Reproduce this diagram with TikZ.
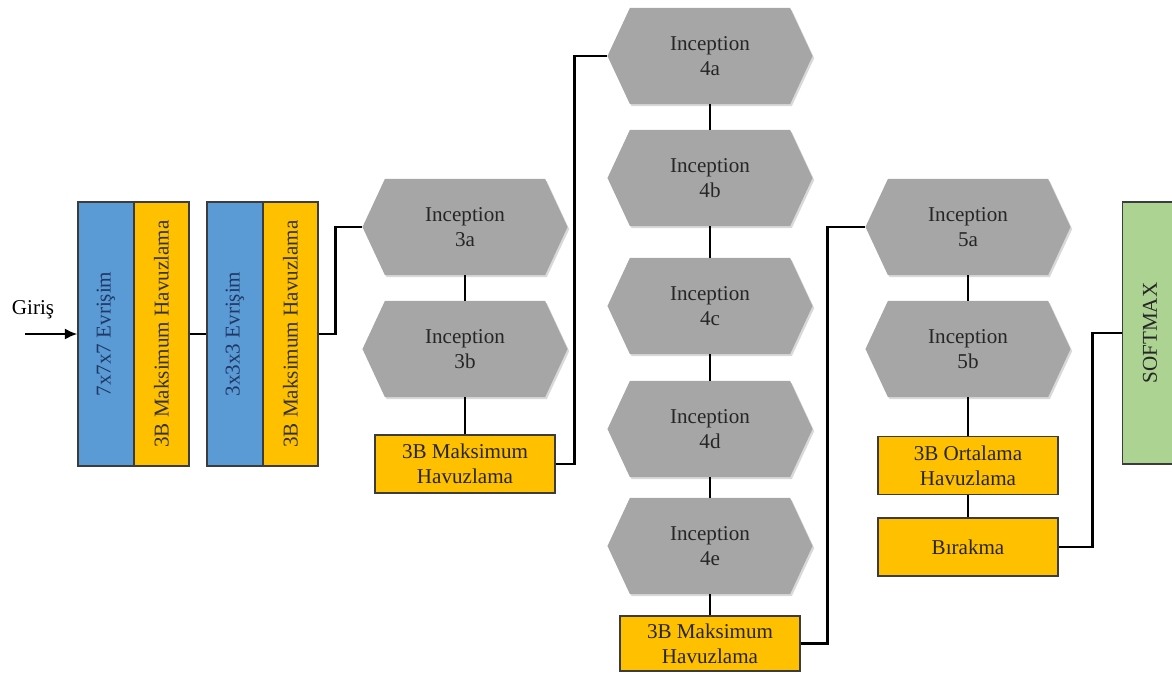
\documentclass[tikz,border=0pt]{standalone}
\usepackage{fontspec}
\setmainfont{Liberation Serif}
\usetikzlibrary{arrows,arrows.meta,positioning,shapes.symbols,shadows}
\definecolor{convblue}{RGB}{91,155,213}
\definecolor{poolyellow}{RGB}{255,192,0}
\definecolor{incgray}{RGB}{166,166,166}
\definecolor{softgreen}{RGB}{172,211,146}
\definecolor{edgegray}{RGB}{60,60,60}
\definecolor{navytext}{RGB}{31,56,100}
\tikzset{%
	convbox/.style = {draw=edgegray, line width=0.8pt, fill=convblue, rotate=90, minimum width=6.6cm, minimum height=1.4cm, inner sep=0pt, text=navytext, drop shadow={opacity=0.25, shadow xshift=1pt, shadow yshift=-1pt}},
	stackpool/.style = {draw=edgegray, line width=0.8pt, fill=poolyellow, rotate=90, minimum width=6.6cm, minimum height=1.375cm, inner sep=0pt, text=black!80},
	poolbox/.style = {draw=edgegray, line width=0.8pt, fill=poolyellow, minimum width=4.5cm, minimum height=1.45cm, inner sep=0pt, align=center, text=black!85},
	hexa/.style = {signal, signal to=west and east, signal pointer angle=130, fill=incgray, minimum width=5.125cm, minimum height=2.4cm, inner sep=0pt, align=center, text=black!85, drop shadow={opacity=0.3, shadow xshift=1.2pt, shadow yshift=-1.5pt}},
	softbox/.style = {draw=edgegray, line width=0.8pt, fill=softgreen, rotate=90, minimum width=6.55cm, minimum height=1.375cm, inner sep=0pt, text=black!85},
	line/.style = {line width=1.7pt},
	arrow/.style = {line width=1.7pt, -{Latex[length=9pt,width=8pt]}},
}
\begin{document}
\begin{tikzpicture}[x=0.025cm, y=-0.025cm, font=\fontsize{15}{18}\selectfont]
	\useasboundingbox (0,0) rectangle (1172,673);
	% input and stem
	\coordinate (in) at (25,334);
	\node (giris) at (33,310) {Giriş};
	\node[convbox] (c1) at (106,334) {7x7x7 Evrişim};
	\node[stackpool] (p1) at (161.5,334) {3B Maksimum Havuzlama};
	\node[convbox] (c2) at (235,334) {3x3x3 Evrişim};
	\node[stackpool] (p2) at (290.5,334) {3B Maksimum Havuzlama};
	
	% inception 3
	\node[hexa] (i3a) at (465,227) {Inception\\3a};
	\node[hexa] (i3b) at (465,349) {Inception\\3b};
	\node[poolbox] (pool3) at (465,464) {3B Maksimum\\Havuzlama};
	
	% inception 4
	\node[hexa] (i4a) at (710,56) {Inception\\4a};
	\node[hexa] (i4b) at (710,178) {Inception\\4b};
	\node[hexa] (i4c) at (710,306) {Inception\\4c};
	\node[hexa] (i4d) at (710,429) {Inception\\4d};
	\node[hexa] (i4e) at (710,546) {Inception\\4e};
	\node[poolbox, minimum height=1.375cm] (pool4) at (710,643.5) {3B Maksimum\\Havuzlama};
	
	% inception 5
	\node[hexa] (i5a) at (968,227) {Inception\\5a};
	\node[hexa] (i5b) at (968,349) {Inception\\5b};
	\node[poolbox] (avg5) at (968,465.5) {3B Ortalama\\Havuzlama};
	\node[poolbox] (drop) at (968,547) {Bırakma};
	\node[softbox] (soft) at (1150,333) {SOFTMAX};
	
	% connectors
	\draw[arrow] (in) -- (c1.north);
	\draw[line] (p1.south) -- (c2.north);
	\draw[line] (p2.south) -- ++(17,0) |- (i3a.west);
	\draw[line] (i3a.south) -- (i3b.north);
	\draw[line] (i3b.south) -- (pool3.north);
	\draw[line] (pool3.east) -- ++(19,0) |- (i4a.west);
	\draw[line] (i4a.south) -- (i4b.north);
	\draw[line] (i4b.south) -- (i4c.north);
	\draw[line] (i4c.south) -- (i4d.north);
	\draw[line] (i4d.south) -- (i4e.north);
	\draw[line] (i4e.south) -- (pool4.north);
	\draw[line] (pool4.east) -- ++(27,0) |- (i5a.west);
	\draw[line] (i5a.south) -- (i5b.north);
	\draw[line] (i5b.south) -- (avg5.north);
	\draw[line] (avg5.south) -- (drop.north);
	\draw[line] (drop.east) -- ++(34,0) |- (soft.north);
\end{tikzpicture}
\end{document}
